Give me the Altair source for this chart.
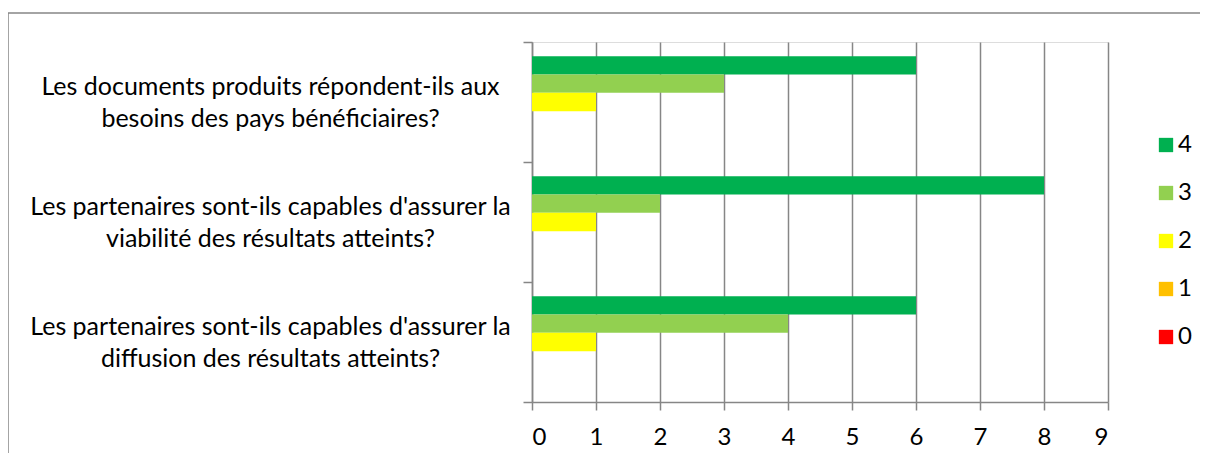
import altair as alt
import pandas as pd

questions = [
    "Les documents produits répondent-ils aux\nbesoins des pays bénéficiaires?",
    "Les partenaires sont-ils capables d'assurer la\nviabilité des résultats atteints?",
    "Les partenaires sont-ils capables d'assurer la\ndiffusion des résultats atteints?",
]
series = ["4", "3", "2", "1", "0"]
colors = ["#00B050", "#92D050", "#FFFF00", "#FFC000", "#FF0000"]
values = {
    "4": [6, 8, 6],
    "3": [3, 2, 4],
    "2": [1, 1, 1],
    "1": [0, 0, 0],
    "0": [0, 0, 0],
}
x_ticks = [0, 1, 2, 3, 4, 5, 6, 7, 8, 9]

rows = []
for s in series:
    for q, v in zip(questions, values[s]):
        rows.append({"question": q, "note": s, "count": v})
df = pd.DataFrame(rows)

GRAY = "#868686"
FONT = "Lato"

bars = alt.Chart(df).mark_bar().encode(
    x=alt.X(
        "count:Q",
        scale=alt.Scale(domain=[0, 9], nice=False),
        axis=alt.Axis(
            title=None,
            values=x_ticks,
            grid=True,
            gridColor=GRAY,
            gridWidth=1.5,
            domainColor=GRAY,
            domainWidth=1.5,
            tickColor=GRAY,
            tickWidth=1.5,
            tickSize=8,
            labelFontSize=24,
            labelColor="#000000",
            labelPadding=15,
            labelFont=FONT,
        ),
    ),
    y=alt.Y(
        "question:N",
        sort=questions,
        scale=alt.Scale(paddingInner=0, paddingOuter=0),
        axis=alt.Axis(
            title=None,
            tickBand="extent",
            domainColor=GRAY,
            domainWidth=1.5,
            tickColor=GRAY,
            tickWidth=1.5,
            tickSize=9,
            labelAlign="center",
            labelPadding=253,
            labelOffset=-16,
            labelLimit=1000,
            labelFontSize=25,
            labelLineHeight=32,
            labelColor="#000000",
            labelFont=FONT,
            labelExpr="split(datum.label, '\\n')",
        ),
    ),
    yOffset=alt.YOffset(
        "note:N",
        sort=series,
        scale=alt.Scale(paddingInner=0, paddingOuter=0.78),
    ),
    color=alt.Color(
        "note:N",
        sort=series,
        scale=alt.Scale(domain=series, range=colors),
        legend=alt.Legend(
            title=None,
            orient="none",
            legendX=622,
            legendY=91,
            padding=0,
            symbolType="square",
            symbolSize=205,
            symbolStrokeWidth=0,
            labelFontSize=24,
            labelFont=FONT,
            labelColor="#000000",
            labelOffset=0,
            rowPadding=24,
        ),
    ),
)

frame_df = pd.DataFrame({"k": [0]})
frame_left = alt.Chart(frame_df).mark_rule(color=GRAY, strokeWidth=1.5).encode(
    x=alt.value(-524), y=alt.value(-29), y2=alt.value(600)
)
frame_top = alt.Chart(frame_df).mark_rule(color=GRAY, strokeWidth=1.5).encode(
    x=alt.value(-524), x2=alt.value(800), y=alt.value(-29)
)

chart = (
    alt.layer(frame_left, frame_top, bars)
    .properties(
        width=576,
        height=360,
        autosize="none",
        padding={"left": 524, "top": 34, "right": 92, "bottom": 51},
    )
    .configure_view(stroke=None)
    .configure(font=FONT)
)

chart.save("out.html", embed_options={"renderer": "svg", "actions": False})
